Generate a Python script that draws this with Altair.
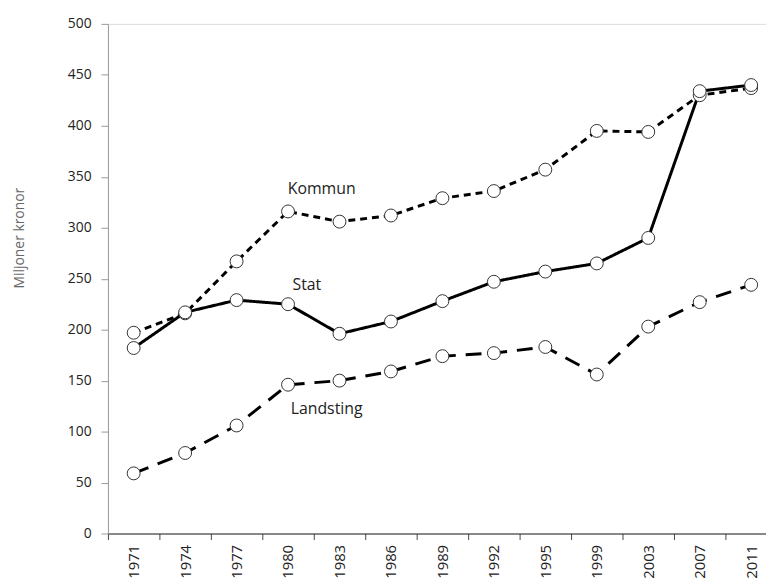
import altair as alt
import pandas as pd

years = ["1971", "1974", "1977", "1980", "1983", "1986", "1989", "1992", "1995", "1999", "2003", "2007", "2011"]
kommun = [197, 216, 267, 316, 306, 312, 329, 336, 357, 395, 394, 430, 437]
stat = [182, 217, 229, 225, 196, 208, 228, 247, 257, 265, 290, 434, 440]
landsting = [59, 79, 106, 146, 150, 159, 174, 177, 183, 156, 203, 227, 244]

series_names = ["Kommun", "Stat", "Landsting"]
label_years = ["1980", "1980", "1980"]
label_values = [338, 244, 122]
label_dx = [34, 19, 39]

rows = []
for name, vals in zip(series_names, [kommun, stat, landsting]):
    for y, v in zip(years, vals):
        rows.append({"serie": name, "year": y, "value": v})
df = pd.DataFrame(rows)

xenc = alt.X("year:N", sort=years, title=None,
             scale=alt.Scale(range=[0, 676], paddingInner=0, paddingOuter=0),
             axis=alt.Axis(labelAngle=-90, labelFont="Open Sans", labelFontSize=15,
                           labelColor="#222", domainColor="#222", tickColor="#444",
                           tickSize=6, tickBand="extent", labelPadding=5, grid=False,
                           labelBaseline="middle"))
yenc = alt.Y("value:Q", title="Miljoner kronor",
             scale=alt.Scale(domain=[0, 500], nice=False),
             axis=alt.Axis(values=list(range(0, 501, 50)), labelFont="Open Sans",
                           labelFontSize=14, labelColor="#222", domainColor="#999",
                           tickColor="#999", tickSize=7, labelPadding=10, grid=False,
                           titleFont="Open Sans", titleFontSize=14, titleFontWeight="normal",
                           titleColor="#666", titleAngle=-90, titleX=-89, titleY=216,
                           titleAlign="center", titleBaseline="middle"))

dash = alt.StrokeDash("serie:N", legend=None,
                      scale=alt.Scale(domain=series_names, range=[[7, 5], [1, 0], [16, 10]]))

lines = alt.Chart(df).mark_line(color="black", strokeWidth=3).encode(
    x=xenc, y=yenc, strokeDash=dash, detail="serie:N")
points = alt.Chart(df).mark_point(shape="circle", filled=True, fill="white",
                                  stroke="#333", strokeWidth=1, size=170, opacity=1).encode(
    x=alt.X("year:N", sort=years), y="value:Q", detail="serie:N")

texts = []
for name, ly, lv, dx in zip(series_names, label_years, label_values, label_dx):
    ldf = pd.DataFrame({"label": [name], "year": [ly], "value": [lv]})
    texts.append(alt.Chart(ldf).mark_text(font="Open Sans", fontSize=16, color="#222",
                                          dx=dx, align="center", baseline="middle").encode(
        x=alt.X("year:N", sort=years), y="value:Q", text="label:N"))

chart = alt.layer(lines, points, *texts).properties(
    width=665, height=515, autosize="none",
    padding={"left": 101, "top": 13, "right": 0, "bottom": 52},
).configure_view(stroke=None).configure(background="white")

chart.save("out.html", embed_options={"renderer": "svg", "actions": False})
